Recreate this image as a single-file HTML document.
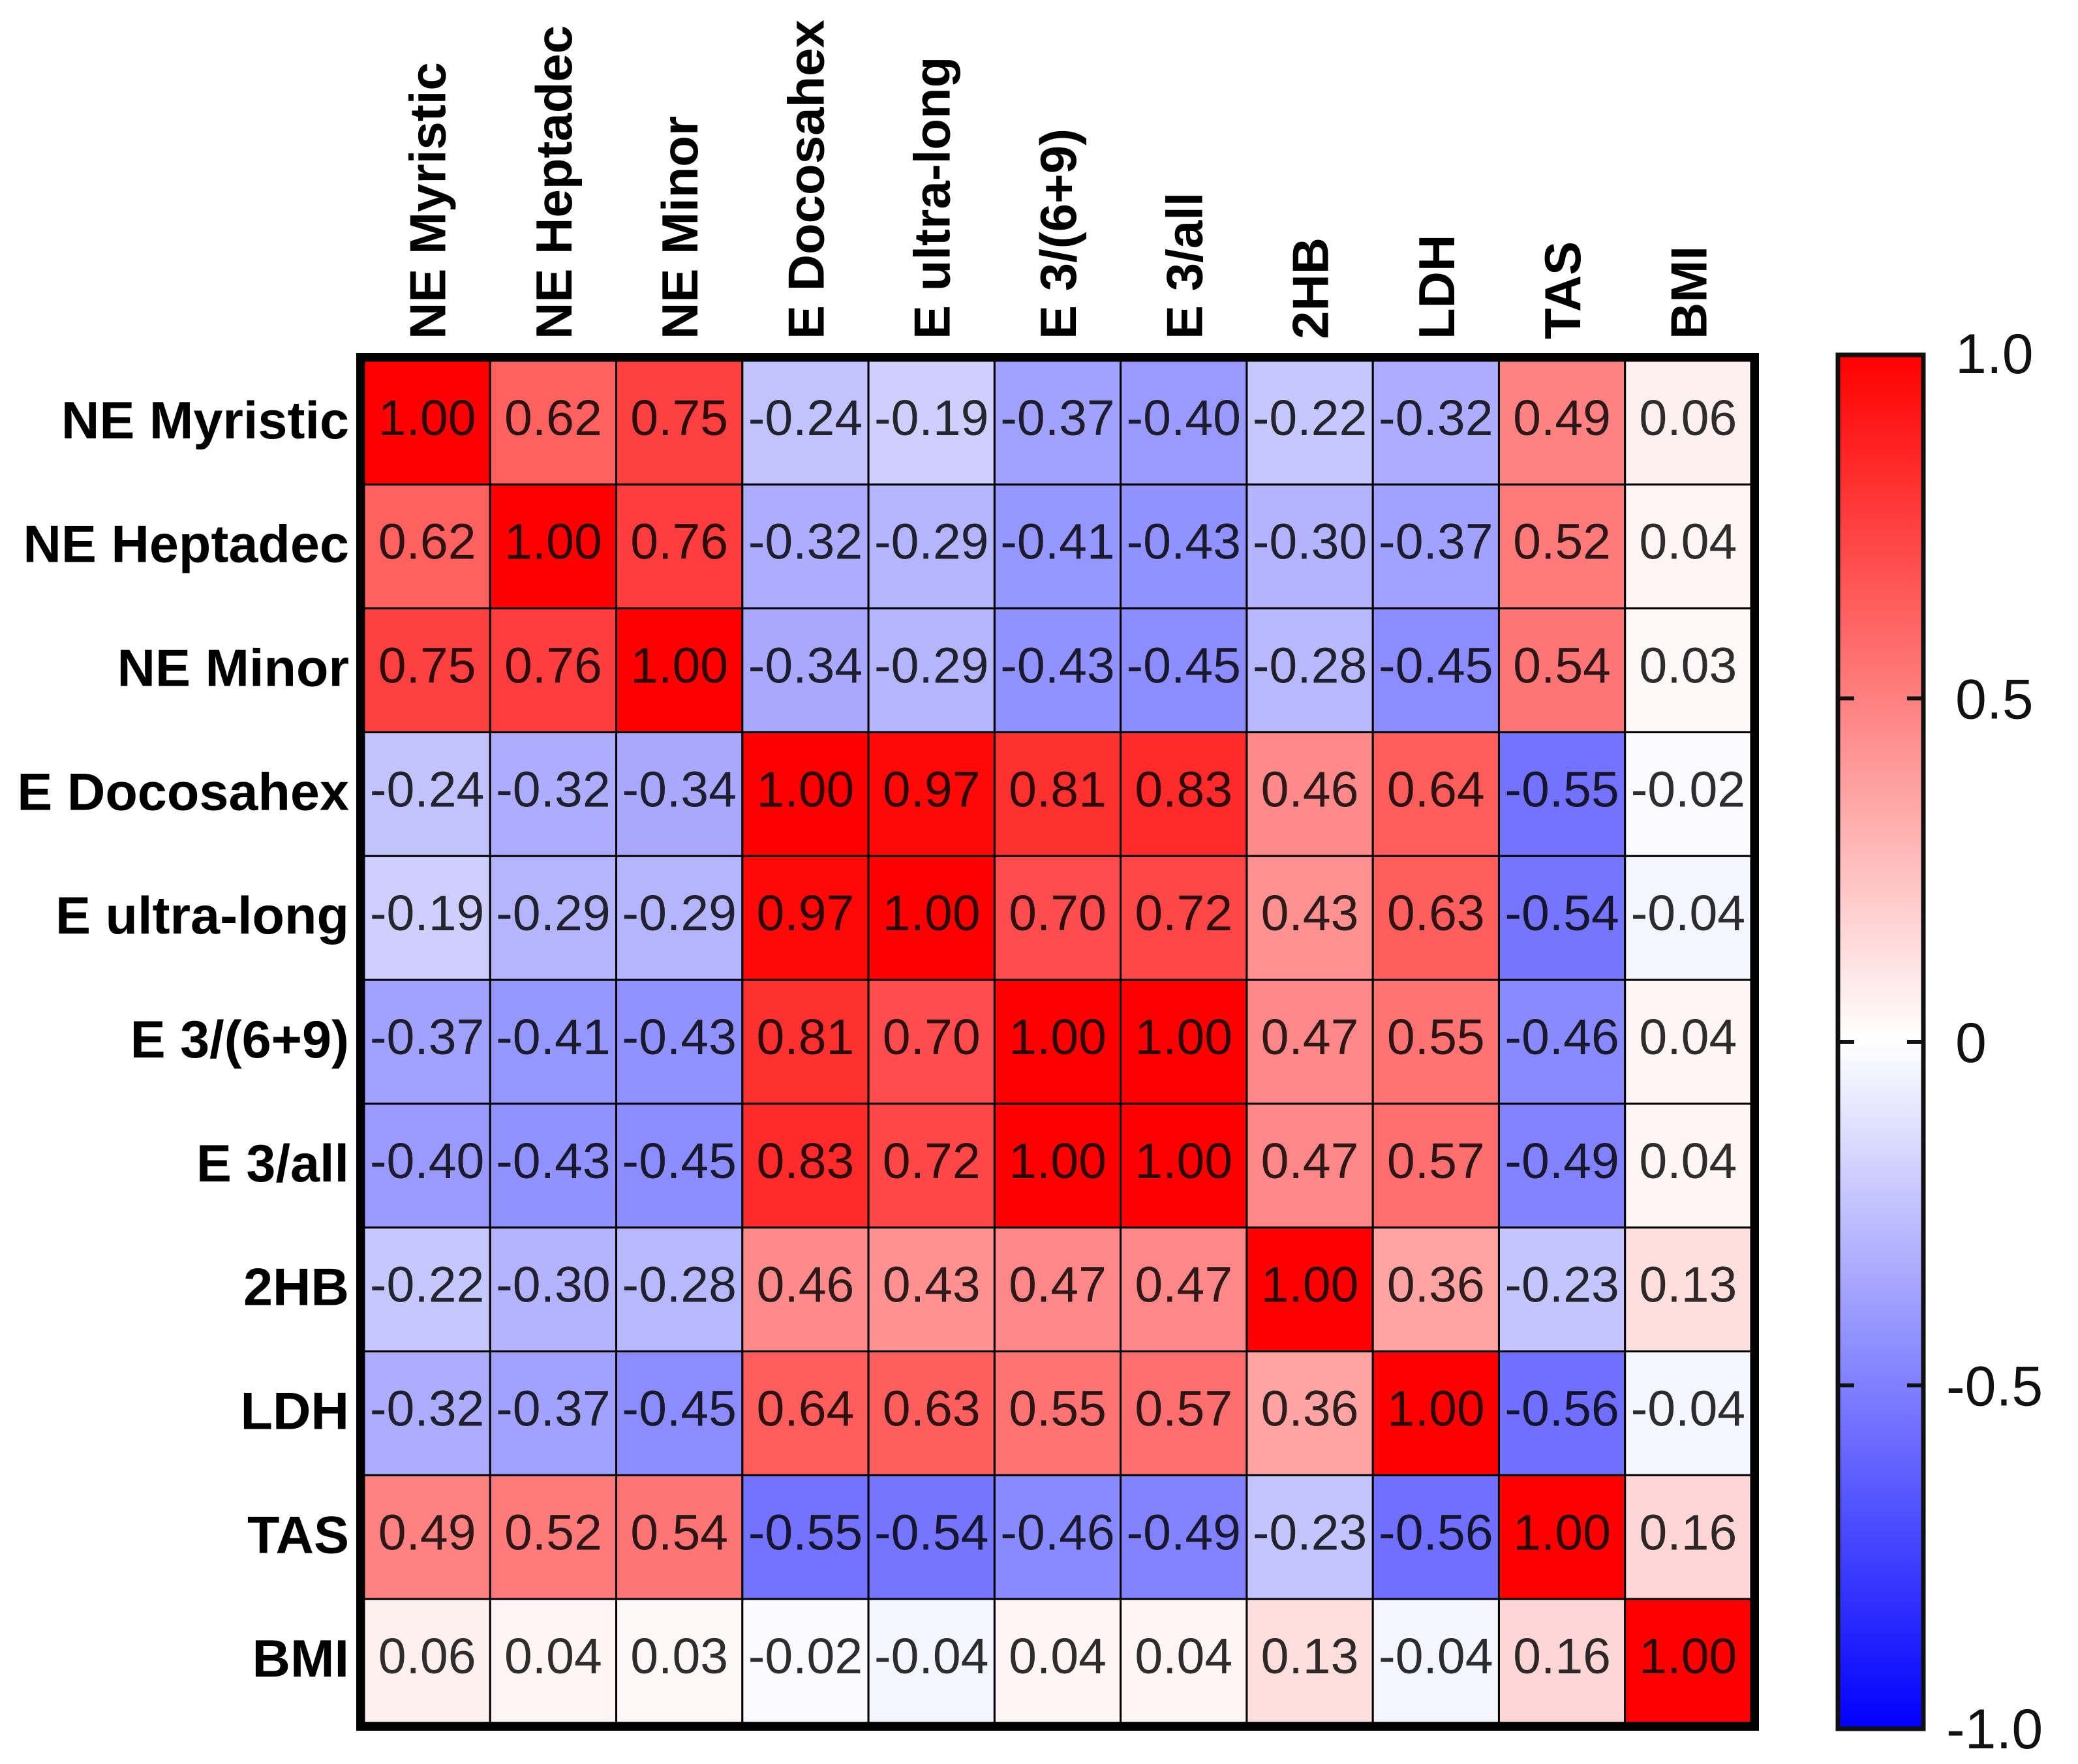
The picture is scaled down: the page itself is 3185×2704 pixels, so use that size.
<!DOCTYPE html>
<html><head><meta charset="utf-8"><style>
html,body{margin:0;padding:0;background:#fff;}
svg{display:block;}
</style></head><body>
<svg id="chart" width="3185" height="2704" viewBox="0 0 3185 2704" xmlns="http://www.w3.org/2000/svg" font-family="Liberation Sans, Arial, sans-serif">
<defs>
<linearGradient id="cbgrad" x1="0" y1="0" x2="0" y2="1">
<stop offset="0" stop-color="#ff0000"/><stop offset="0.5" stop-color="#ffffff"/><stop offset="1" stop-color="#0000ff"/>
</linearGradient>
</defs>
<g id="cells"></g>
<g id="rowlabels"></g>
<g id="collabels"></g>
<rect x="552" y="547" width="2138" height="2100" fill="none" stroke="#000" stroke-width="12"/>
<g id="colorbar">
<rect x="2817" y="544" width="131" height="2106" fill="url(#cbgrad)" stroke="#111" stroke-width="7"/>
</g>
</svg>
<script>
const labels = ["NE Myristic","NE Heptadec","NE Minor","E Docosahex","E ultra-long","E 3/(6+9)","E 3/all","2HB","LDH","TAS","BMI"];
const row0 = [1.00,0.62,0.75,-0.24,-0.19,-0.37,-0.40,-0.22,-0.32,0.49,0.06];
const row1 = [0.62,1.00,0.76,-0.32,-0.29,-0.41,-0.43,-0.30,-0.37,0.52,0.04];
const row2 = [0.75,0.76,1.00,-0.34,-0.29,-0.43,-0.45,-0.28,-0.45,0.54,0.03];
const row3 = [-0.24,-0.32,-0.34,1.00,0.97,0.81,0.83,0.46,0.64,-0.55,-0.02];
const row4 = [-0.19,-0.29,-0.29,0.97,1.00,0.70,0.72,0.43,0.63,-0.54,-0.04];
const row5 = [-0.37,-0.41,-0.43,0.81,0.70,1.00,1.00,0.47,0.55,-0.46,0.04];
const row6 = [-0.40,-0.43,-0.45,0.83,0.72,1.00,1.00,0.47,0.57,-0.49,0.04];
const row7 = [-0.22,-0.30,-0.28,0.46,0.43,0.47,0.47,1.00,0.36,-0.23,0.13];
const row8 = [-0.32,-0.37,-0.45,0.64,0.63,0.55,0.57,0.36,1.00,-0.56,-0.04];
const row9 = [0.49,0.52,0.54,-0.55,-0.54,-0.46,-0.49,-0.23,-0.56,1.00,0.16];
const row10 = [0.06,0.04,0.03,-0.02,-0.04,0.04,0.04,0.13,-0.04,0.16,1.00];
const matrix = [row0,row1,row2,row3,row4,row5,row6,row7,row8,row9,row10];
const cbTicks = [1.0,0.5,0,-0.5,-1.0];
const cbTickLabels = ["1.0","0.5","0","-0.5","-1.0"];

const NS="http://www.w3.org/2000/svg";
const X0=558, Y0=553, X1=2684, Y1=2641;
const n=labels.length;
const cw=(X1-X0)/n, ch=(Y1-Y0)/n;
const xPos=i=>X0+i*cw;
const yPos=j=>Y0+j*ch;
const CB_TOP=544, CB_BOT=2650;
const cbY=v=>CB_TOP+(1-v)/2*(CB_BOT-CB_TOP);
function color(v){
  if(v>=0){const c=Math.round(255*(1-v));return `rgb(255,${c},${c})`;}
  const c=Math.round(255*(1+v));return `rgb(${c},${c},255)`;
}
function mk(tag,attrs){const e=document.createElementNS(NS,tag);for(const k in attrs)e.setAttribute(k,attrs[k]);return e;}
const cells=document.getElementById('cells');
matrix.forEach((row,j)=>{
  row.forEach((v,i)=>{
    const r=mk('rect',{x:xPos(i),y:yPos(j),width:cw,height:ch,fill:color(v),stroke:'#000','stroke-width':3});
    
    
    cells.appendChild(r);
    const t=mk('text',{x:xPos(i)+cw/2,y:yPos(j)+ch/2+19,'text-anchor':'middle','font-size':77,fill:'#000','fill-opacity':0.82});
    
    
    t.textContent=v.toFixed(2);
    cells.appendChild(t);
  });
});
const rl=document.getElementById('rowlabels'), cl=document.getElementById('collabels');
labels.forEach((l,j)=>{
  const t=mk('text',{x:535,y:yPos(j)+ch/2+24,'text-anchor':'end','font-size':81,'font-weight':'bold',fill:'#000'});
  
  
  t.textContent=l;rl.appendChild(t);
  const cx=xPos(j)+cw/2+28;
  const c=mk('text',{x:cx,y:520,transform:`rotate(-90 ${cx} 520)`,'font-size':78,'font-weight':'bold',fill:'#000'});
  
  
  c.textContent=l;cl.appendChild(c);
});
const cb=document.getElementById('colorbar');
cbTicks.forEach((v,k)=>{
  const y=cbY(v);
  if(k>0&&k<cbTicks.length-1){
    const a=mk('line',{x1:2817,x2:2842,y1:y,y2:y,stroke:'#111','stroke-width':6});
    
    
    cb.appendChild(a);
    const b=mk('line',{x1:2923,x2:2948,y1:y,y2:y,stroke:'#111','stroke-width':6});
    
    
    cb.appendChild(b);
  }
  let ty=y+31;
  if(k===0)ty=y+28; if(k===cbTicks.length-1)ty=y+30;
  const t=mk('text',{x:v<0?2983:2997,y:ty,'font-size':86,fill:'#111'});
  
  
  t.textContent=cbTickLabels[k];cb.appendChild(t);
});
</script>
</body></html>
